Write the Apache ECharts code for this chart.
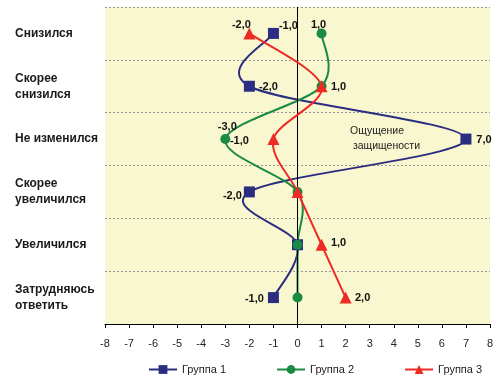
<!DOCTYPE html>
<html>
<head>
<meta charset="utf-8">
<script src="https://cdn.jsdelivr.net/npm/echarts@6/dist/echarts.min.js"></script>
<style>
  html, body { margin: 0; padding: 0; background: #ffffff; }
  #chart { width: 499px; height: 377px; }
</style>
</head>
<body>
<div id="chart"></div>
<script>
// Answer categories, top to bottom
var categories = ['Снизился', 'Скорее\nснизился', 'Не изменился', 'Скорее\nувеличился', 'Увеличился', 'Затрудняюсь\nответить'];
// Values for each group
var group1 = [-1, -2, 7, -2, 0, -1];
var group2 = [1, 1, -3, 0, 0, 0];
var group3 = [-2, 1, -1, 0, 1, 2];
var seriesNames = ['Группа 1', 'Группа 2', 'Группа 3'];
var xTicks = [-8, -7, -6, -5, -4, -3, -2, -1, 0, 1, 2, 3, 4, 5, 6, 7, 8];

// Label offsets from each point's centre, in pixels (null = no label)
var labelOffset1 = [[15, -7], [19, 1], [18, 1], [-17, 4], null, [-19, 1]];
var labelOffset2 = [[-3, -8], null, [2, -12], null, null, null];
var labelOffset3 = [[-8, -8], [17, 1], [-34, 2], null, [17, -2], [17, 0]];

var colors = ['#2B2D80', '#1B8A45', '#EE2A24'];

function fmt(v) { return v.toFixed(1).replace('.', ','); }

function buildData(values, offsets) {
  return values.map(function (v, i) {
    var o = offsets[i];
    if (!o) return { value: v, label: { show: false } };
    return { value: v, label: { show: true, position: 'inside', offset: o } };
  });
}

// Smoothed curve through the points (cubic Bezier, Catmull-Rom style tangents)
function curveSeries(values, color, z) {
  return {
    type: 'custom',
    silent: true,
    z: z,
    coordinateSystem: 'cartesian2d',
    encode: { x: 0, y: 1 },
    data: values.map(function (v, i) { return [v, i]; }),
    renderItem: function (params, api) {
      var i = params.dataIndex;
      var n = values.length;
      if (i >= n - 1) return null;
      var p0 = api.coord([values[Math.max(i - 1, 0)], Math.max(i - 1, 0)]);
      var p1 = api.coord([values[i], i]);
      var p2 = api.coord([values[i + 1], i + 1]);
      var p3 = api.coord([values[Math.min(i + 2, n - 1)], Math.min(i + 2, n - 1)]);
      return {
        type: 'bezierCurve',
        shape: {
          x1: p1[0], y1: p1[1], x2: p2[0], y2: p2[1],
          cpx1: p1[0] + (p2[0] - p0[0]) / 6, cpy1: p1[1] + (p2[1] - p0[1]) / 6,
          cpx2: p2[0] - (p3[0] - p1[0]) / 6, cpy2: p2[1] - (p3[1] - p1[1]) / 6
        },
        style: { stroke: color, lineWidth: 2, fill: null }
      };
    }
  };
}

var labelStyle = {
  formatter: function (p) { return fmt(p.value); },
  fontFamily: 'Liberation Sans, Arial, sans-serif',
  fontWeight: 'bold',
  fontSize: 11,
  color: '#111111'
};

function pointSeries(idx, values, offsets, symbol, size) {
  return {
    name: seriesNames[idx], type: 'line',
    data: buildData(values, offsets),
    symbol: symbol, symbolSize: size,
    itemStyle: { color: colors[idx] },
    lineStyle: { color: colors[idx], width: 2, opacity: 0 },
    label: labelStyle, z: 10 + idx
  };
}

var chart = echarts.init(document.getElementById('chart'), null, { renderer: 'canvas' });

var s1 = pointSeries(0, group1, labelOffset1, 'rect', 11);
s1.markLine = {
  silent: true, symbol: 'none', label: { show: false },
  lineStyle: { color: '#000000', type: 'solid', width: 1 },
  data: [{ xAxis: 0 }]
};

chart.setOption({
  animation: false,
  backgroundColor: '#ffffff',
  grid: {
    left: 105, right: 9, top: 7, bottom: 53,
    show: true, backgroundColor: '#F9F7CF', borderWidth: 0
  },
  xAxis: {
    type: 'value', min: -8, max: 8, interval: 1,
    axisLine: { show: true, onZero: false, lineStyle: { color: '#000000', width: 1 } },
    axisTick: { show: true, length: 4, lineStyle: { color: '#000000', width: 1 } },
    axisLabel: {
      color: '#222222', fontSize: 11, margin: 14,
      fontFamily: 'Liberation Sans, Arial, sans-serif',
      formatter: function (v) { return xTicks.indexOf(v) >= 0 ? String(v) : ''; }
    },
    splitLine: { show: false }
  },
  yAxis: {
    type: 'category', inverse: true, boundaryGap: true,
    data: categories,
    axisLine: { show: false },
    axisTick: { show: false },
    axisLabel: {
      align: 'left', margin: 90,
      color: '#1a1a1a', fontSize: 12, fontWeight: 'bold', lineHeight: 16,
      fontFamily: 'Liberation Sans, Arial, sans-serif'
    },
    splitLine: {
      show: true, interval: 0,
      lineStyle: { color: '#999999', type: [2, 2], width: 1 }
    }
  },
  legend: {
    top: 359, left: 143, itemGap: 50, itemWidth: 28, itemHeight: 11,
    textStyle: { color: '#222222', fontSize: 11, fontFamily: 'Liberation Sans, Arial, sans-serif' },
    data: seriesNames.map(function (name, i) {
      return { name: name, lineStyle: { color: colors[i], width: 2, opacity: 1 } };
    })
  },
  graphic: [{
    type: 'text', left: 350, top: 124, z: 10,
    style: {
      text: 'Ощущение\n защищености', fill: '#222222',
      font: '10.5px Liberation Sans, Arial, sans-serif', lineHeight: 15, textAlign: 'left'
    }
  }],
  series: [
    curveSeries(group1, colors[0], 3),
    curveSeries(group2, colors[1], 4),
    curveSeries(group3, colors[2], 5),
    s1,
    pointSeries(1, group2, labelOffset2, 'circle', 10),
    pointSeries(2, group3, labelOffset3, 'triangle', 12)
  ]
});
</script>
</body>
</html>
